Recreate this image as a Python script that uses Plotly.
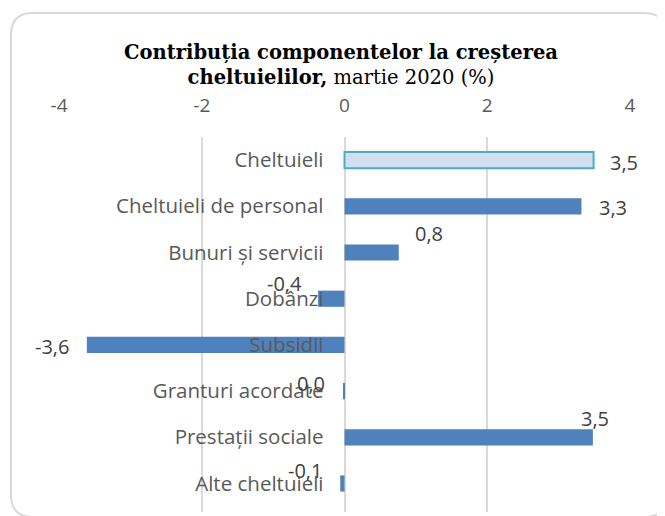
import plotly.graph_objects as go

categories = ["Cheltuieli", "Cheltuieli de personal", "Bunuri și servicii", "Dobânzi",
              "Subsidii", "Granturi acordate", "Prestații sociale", "Alte cheltuieli"]
values = [3.49, 3.32, 0.76, -0.37, -3.61, -0.02, 3.48, -0.06]
value_labels = ["3,5", "3,3", "0,8", "-0,4", "-3,6", "0,0", "3,5", "-0,1"]
x_ticks = [-4, -2, 0, 2, 4]

# label placement styles (anchor, xshift, yshift) per row
label_styles = [("left", 14, -2), ("left", 16, -1), ("left", 14, 19), ("right", -14, 15),
                ("right", -16, -2), ("right", -16, 8), ("center", 2, 19), ("right", -16, 13)]

# page is shown with an 8px offset; lay out in figure pixels = page pixels - 8
OFF = 8
W, H = 665, 516
ML, MT = 59 - OFF, 137 - OFF
MR = W - (630 - OFF)
MB = H - (512 - OFF)
PW, PH = W - ML - MR, H - MT - MB

FONT = "Open Sans, Lato, sans-serif"

colors = ["#d3dfee"] + ["#4f81bd"] * (len(values) - 1)
line_colors = ["#4bacc6"] + ["#4f81bd"] * (len(values) - 1)
line_widths = [2] + [0] * (len(values) - 1)

fig = go.Figure()
fig.add_trace(go.Bar(
    y=categories, x=values, orientation="h", width=0.35,
    marker=dict(color=colors, line=dict(color=line_colors, width=line_widths)),
    hoverinfo="skip", showlegend=False,
))

annotations = []
for cat, v, lab, (anc, xs, ys) in zip(categories, values, value_labels, label_styles):
    annotations.append(dict(
        x=v, y=cat, xref="x", yref="y", text=lab, showarrow=False,
        xanchor=anc, yanchor="middle", xshift=xs, yshift=ys,
        font=dict(family=FONT, size=20, color="#404040"),
    ))


def px2x(px):
    return (px - OFF - ML) / PW


def py2y(py):
    return (H - MB - (py - OFF)) / PH


x0, x1, y0, y1, r = 11, 666, 13, 517, 22
path = (f"M {px2x(x0 + r)},{py2y(y0)} L {px2x(x1 - r)},{py2y(y0)} "
        f"Q {px2x(x1)},{py2y(y0)} {px2x(x1)},{py2y(y0 + r)} "
        f"L {px2x(x1)},{py2y(y1 - r)} Q {px2x(x1)},{py2y(y1)} {px2x(x1 - r)},{py2y(y1)} "
        f"L {px2x(x0 + r)},{py2y(y1)} Q {px2x(x0)},{py2y(y1)} {px2x(x0)},{py2y(y1 - r)} "
        f"L {px2x(x0)},{py2y(y0 + r)} Q {px2x(x0)},{py2y(y0)} {px2x(x0 + r)},{py2y(y0)} Z")

fig.update_layout(
    width=W, height=H,
    margin=dict(l=ML, r=MR, t=MT, b=MB),
    paper_bgcolor="white", plot_bgcolor="white",
    title=dict(
        text="<b>Contribuția componentelor la creșterea</b><br><b>cheltuielilor,</b> martie 2020 (%)",
        x=(341 - OFF) / W, xref="container", xanchor="center",
        y=1 - (59 - OFF) / H, yref="container", yanchor="middle",
        font=dict(family="DejaVu Serif, serif", size=19.5, color="#000000"),
    ),
    xaxis=dict(
        range=[-4, 4], side="top", tickvals=x_ticks, ticktext=[str(t) for t in x_ticks],
        showgrid=True, gridcolor="#d9d9d9", gridwidth=2, zeroline=False,
        showline=False, ticks="", ticklabelstandoff=20,
        tickfont=dict(family=FONT, size=19, color="#595959"),
        fixedrange=True,
    ),
    yaxis=dict(
        categoryorder="array", categoryarray=categories, autorange="reversed",
        anchor="free", position=0.5, showgrid=False, zeroline=False, showline=False,
        ticks="", ticklabelstandoff=21,
        tickfont=dict(family=FONT, size=20.5, color="#595959"),
        fixedrange=True,
    ),
    annotations=annotations,
    shapes=[dict(type="path", path=path, xref="paper", yref="paper",
                 line=dict(color="#d9d9d9", width=2), layer="below")],
    bargap=0.3,
)

fig.write_html("out.html")
